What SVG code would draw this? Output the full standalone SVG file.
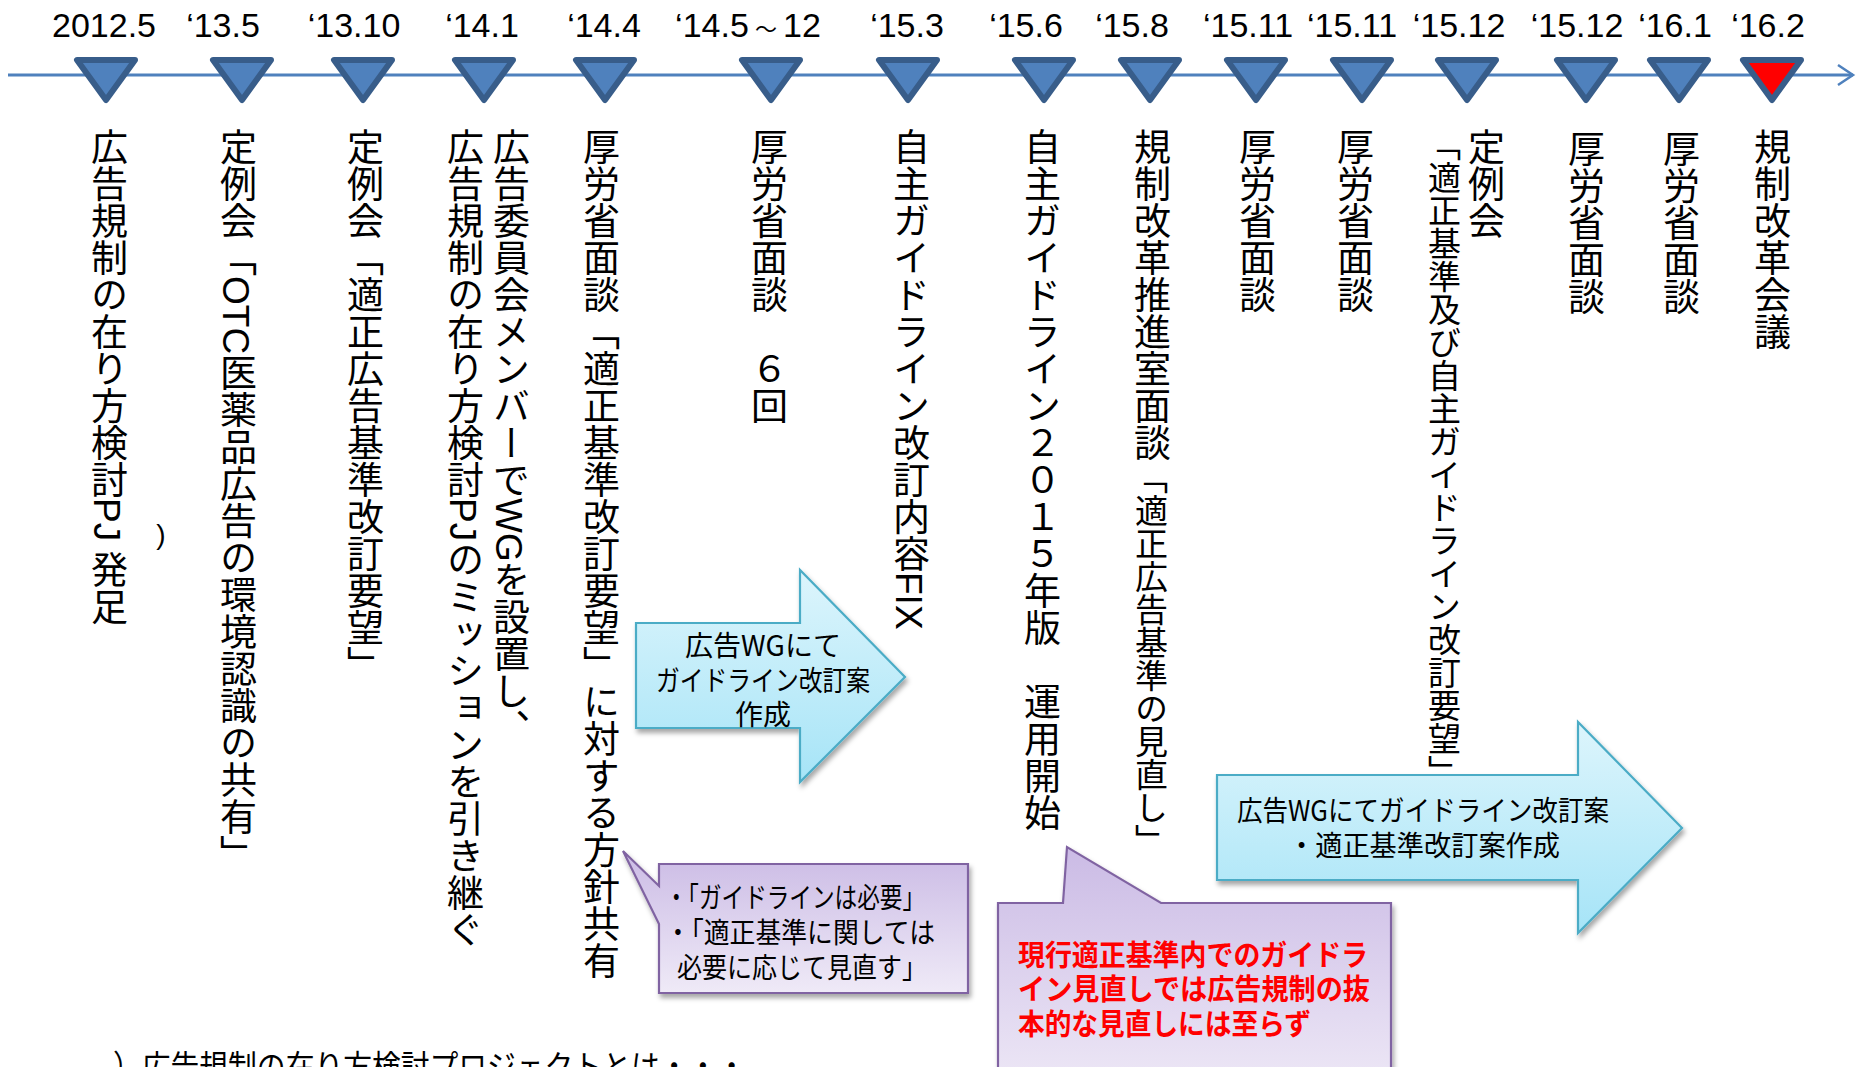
<svg xmlns="http://www.w3.org/2000/svg" xmlns:xlink="http://www.w3.org/1999/xlink" width="1856" height="1067" viewBox="0 0 1856 1067">
<style>
.date{font-family:"Liberation Sans","Noto Sans CJK JP",sans-serif;font-size:34px;fill:#000;text-anchor:middle}
.tri{fill:#4F81BD;stroke:#385D8A;stroke-width:6;stroke-linejoin:round}
.tri.red{fill:#FF0000}
.vt{font-family:"Liberation Sans","Noto Sans CJK JP",sans-serif;font-size:37px;fill:#000;writing-mode:vertical-rl}
.vs{font-size:33px}
.bx{font-family:"Noto Sans CJK JP",sans-serif;font-size:28px;fill:#000;text-anchor:middle}
.red{font-family:"Noto Sans CJK JP",sans-serif;font-size:29px;font-weight:bold;fill:#FF0000}
.arrowA{fill:url(#gBlue);stroke:#4BACC6;stroke-width:2.2;filter:url(#sh)}
.call{fill:url(#gPurple);stroke:#8064A2;stroke-width:2.2;filter:url(#sh)}
.axis{stroke:#4F81BD;stroke-width:3;fill:none}
</style>
<defs>
<linearGradient id="gBlue" x1="0" y1="0" x2="0" y2="1"><stop offset="0" stop-color="#DDF5FC"/><stop offset="1" stop-color="#A6E4F7"/></linearGradient>
<linearGradient id="gPurple" x1="0" y1="0" x2="0" y2="1"><stop offset="0" stop-color="#CBBBE5"/><stop offset="1" stop-color="#EFEAF7"/></linearGradient>
<filter id="sh" x="-10%" y="-10%" width="130%" height="130%"><feDropShadow dx="2" dy="4" stdDeviation="2.5" flood-color="#000" flood-opacity="0.35"/></filter>
<path id="tri" d="M-29,-15 L29,-15 L0,25 Z"/>
<marker id="open" viewBox="-2 -2 20 24" refX="15" refY="10" markerWidth="20" markerHeight="24" markerUnits="userSpaceOnUse" orient="auto"><path d="M0,0 L15,10 L0,20" fill="none" stroke="#4F81BD" stroke-width="2.5"/></marker>
</defs>
<rect width="1856" height="1067" fill="#FFFFFF"/>
<g id="connectors">
<line class="axis" x1="8" y1="75" x2="1853" y2="75" marker-end="url(#open)"/>
</g>
<g id="e1"><text class="date" x="104" y="37">2012.5</text><use href="#tri" class="tri" x="106" y="75"/><text class="vt" x="106" y="128">広告規制の在り方検討PJ 発足</text><text x="161" y="544" font-family="Liberation Sans,sans-serif" font-size="28" text-anchor="middle">)</text></g>
<g id="e2"><text class="date" x="223" y="37">‘13.5</text><use href="#tri" class="tri" x="242" y="75"/><text class="vt" x="235" y="128">定例会「OTC医薬品広告の環境認識の共有」</text></g>
<g id="e3"><text class="date" x="354" y="37">‘13.10</text><use href="#tri" class="tri" x="363" y="75"/><text class="vt" x="362" y="128">定例会「適正広告基準改訂要望」</text></g>
<g id="e4"><text class="date" x="482" y="37">‘14.1</text><use href="#tri" class="tri" x="484" y="75"/><text class="vt" x="508" y="128">広告委員会メンバーでWGを設置し、</text><text class="vt" x="462" y="128">広告規制の在り方検討PJのミッションを引き継ぐ</text></g>
<g id="e5"><text class="date" x="604" y="37">‘14.4</text><use href="#tri" class="tri" x="605" y="75"/><text class="vt" x="598" y="128">厚労省面談「適正基準改訂要望」に対する方針共有</text></g>
<g id="e6"><text class="date" x="748" y="37">‘14.5<tspan font-size="22"> ～ </tspan>12</text><use href="#tri" class="tri" x="771" y="75"/><text class="vt" x="766" y="128">厚労省面談　６回</text></g>
<g id="e7"><text class="date" x="907" y="37">‘15.3</text><use href="#tri" class="tri" x="908" y="75"/><text class="vt" x="908" y="128">自主ガイドライン改訂内容FIX</text></g>
<g id="e8"><text class="date" x="1026" y="37">‘15.6</text><use href="#tri" class="tri" x="1044" y="75"/><text class="vt" x="1039" y="128">自主ガイドライン２０１５年版　運用開始</text></g>
<g id="e9"><text class="date" x="1132" y="37">‘15.8</text><use href="#tri" class="tri" x="1150" y="75"/><text class="vt" x="1149" y="128">規制改革推進室面談<tspan class="vs">「適正広告基準の見直し」</tspan></text></g>
<g id="e10"><text class="date" x="1248" y="37">‘15.11</text><use href="#tri" class="tri" x="1256" y="75"/><text class="vt" x="1254" y="128">厚労省面談</text></g>
<g id="e11"><text class="date" x="1352" y="37">‘15.11</text><use href="#tri" class="tri" x="1362" y="75"/><text class="vt" x="1352" y="128">厚労省面談</text></g>
<g id="e12"><text class="date" x="1459" y="37">‘15.12</text><use href="#tri" class="tri" x="1467" y="75"/><text class="vt" x="1483" y="128">定例会</text><text class="vt vs" x="1442" y="128">「適正基準及び自主ガイドライン改訂要望」</text></g>
<g id="e13"><text class="date" x="1577" y="37">‘15.12</text><use href="#tri" class="tri" x="1586" y="75"/><text class="vt" x="1583" y="130">厚労省面談</text></g>
<g id="e14"><text class="date" x="1675" y="37">‘16.1</text><use href="#tri" class="tri" x="1679" y="75"/><text class="vt" x="1678" y="130">厚労省面談</text></g>
<g id="e15"><text class="date" x="1768" y="37">‘16.2</text><use href="#tri" class="tri red" x="1772" y="75"/><text class="vt" x="1769" y="128">規制改革会議</text></g>
<g id="arrowA"><path class="arrowA" d="M636,623 L800,623 L800,570 L905,677 L800,782 L800,728 L636,728 Z"/><text class="bx" x="763" y="656" textLength="156" lengthAdjust="spacingAndGlyphs">広告WGにて</text><text class="bx" x="763" y="691" textLength="214" lengthAdjust="spacingAndGlyphs">ガイドライン改訂案</text><text class="bx" x="763" y="725" textLength="56" lengthAdjust="spacingAndGlyphs">作成</text></g>
<g id="calloutB"><path class="call" d="M659,864 L968,864 L968,993 L659,993 L659,924 L623,851 L659,886 Z"/><text class="bx" x="795" y="908" textLength="260" lengthAdjust="spacingAndGlyphs">・「ガイドラインは必要」</text><text class="bx" x="800" y="943" textLength="270" lengthAdjust="spacingAndGlyphs">・「適正基準に関しては</text><text class="bx" x="802" y="978" textLength="250" lengthAdjust="spacingAndGlyphs">必要に応じて見直す」</text></g>
<g id="calloutC"><path class="call" d="M998,903 L1063,903 L1067,847 L1161,903 L1391,903 L1391,1100 L998,1100 Z"/><text class="red" x="1018" y="966" textLength="350" lengthAdjust="spacingAndGlyphs">現行適正基準内でのガイドラ</text><text class="red" x="1018" y="1000" textLength="352" lengthAdjust="spacingAndGlyphs">イン見直しでは広告規制の抜</text><text class="red" x="1018" y="1035" textLength="293" lengthAdjust="spacingAndGlyphs">本的な見直しには至らず</text></g>
<g id="arrowD"><path class="arrowA" d="M1217,775 L1578,775 L1578,722 L1682,828 L1578,933 L1578,880 L1217,880 Z"/><text class="bx" x="1423" y="821" textLength="372" lengthAdjust="spacingAndGlyphs">広告WGにてガイドライン改訂案</text><text class="bx" x="1424" y="856" textLength="272" lengthAdjust="spacingAndGlyphs">・適正基準改訂案作成</text></g>
<g id="footer"><text x="113" y="1078" font-family="Noto Sans CJK JP,sans-serif" font-size="32" textLength="633" lengthAdjust="spacingAndGlyphs">）広告規制の在り方検討プロジェクトとは・・・</text></g>
</svg>
